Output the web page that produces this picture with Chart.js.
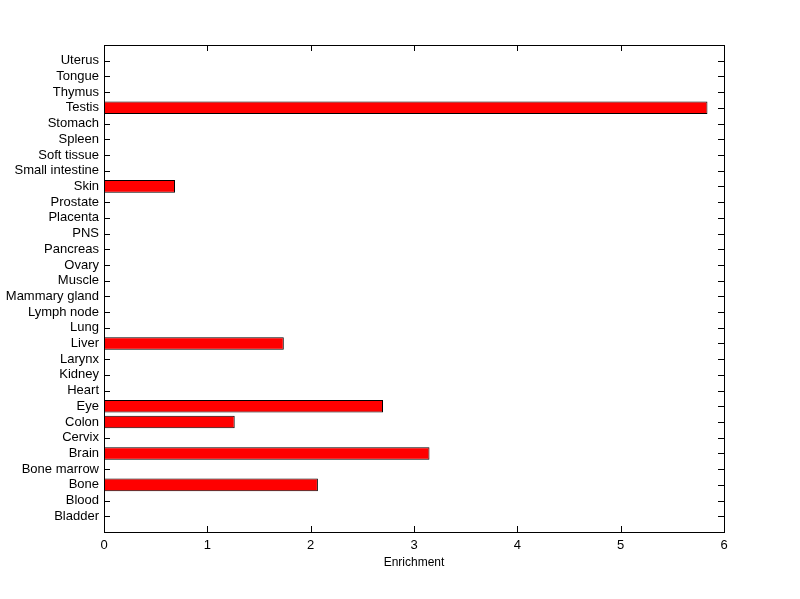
<!DOCTYPE html>
<html>
<head>
<meta charset="utf-8">
<script src="https://cdn.jsdelivr.net/npm/chart.js@4/dist/chart.umd.min.js"></script>
<style>
  html, body { margin: 0; padding: 0; background: #fff; }
  #wrap { width: 800px; height: 599px; }
</style>
</head>
<body>
<div id="wrap"><canvas id="chart" width="800" height="599"></canvas></div>
<script>
// tissues, bottom to top (as in the plot)
const tissues = ['Bladder', 'Blood', 'Bone', 'Bone marrow', 'Brain', 'Cervix', 'Colon', 'Eye',
  'Heart', 'Kidney', 'Larynx', 'Liver', 'Lung', 'Lymph node', 'Mammary gland', 'Muscle',
  'Ovary', 'Pancreas', 'PNS', 'Placenta', 'Prostate', 'Skin', 'Small intestine', 'Soft tissue',
  'Spleen', 'Stomach', 'Testis', 'Thymus', 'Tongue', 'Uterus'];
const enrichment = [0, 0, 2.07, 0, 3.15, 0, 1.265, 2.70,
  0, 0, 0, 1.74, 0, 0, 0, 0,
  0, 0, 0, 0, 0, 0.687, 0, 0,
  0, 0, 5.84, 0, 0, 0];
const xTicks = [0, 1, 2, 3, 4, 5, 6];

const FONT = { family: 'Arial, "Liberation Sans", Helvetica, sans-serif', size: 13 };

// box + inward ticks like matlab axes (drawn under the bars)
const boxTicks = {
    id: 'boxTicks',
    beforeDatasetsDraw(chart) {
        const { ctx, chartArea: a, scales } = chart;
        const len = 6;
        ctx.save();
        ctx.strokeStyle = '#000';
        ctx.lineWidth = 1;
        ctx.beginPath();
        scales.y.ticks.forEach(t => {
            const y = Math.round(scales.y.getPixelForValue(t.value)) + 0.5;
            ctx.moveTo(a.left, y); ctx.lineTo(a.left + len, y);
            ctx.moveTo(a.right, y); ctx.lineTo(a.right - len, y);
        });
        scales.x.ticks.forEach(t => {
            const x = Math.round(scales.x.getPixelForValue(t.value)) + 0.5;
            ctx.moveTo(x, a.bottom); ctx.lineTo(x, a.bottom - len);
            ctx.moveTo(x, a.top); ctx.lineTo(x, a.top + len);
        });
        ctx.stroke();
        ctx.strokeRect(Math.round(a.left) + 0.5, Math.round(a.top) + 0.5,
            Math.round(a.right - a.left), Math.round(a.bottom - a.top));
        ctx.restore();
    }
};

new Chart(document.getElementById('chart'), {
    type: 'bar',
    data: {
        datasets: [{
            data: enrichment.map((v, i) => ({ x: v, y: i + 1 })),
            backgroundColor: '#ff0000',
            borderColor: '#000',
            borderWidth: 1,
            borderSkipped: false,
            barPercentage: 1,
            categoryPercentage: 0.8
        }]
    },
    options: {
        indexAxis: 'y',
        responsive: false,
        animation: false,
        layout: { padding: { top: 45, right: 76, left: 0, bottom: 29 } },
        plugins: { legend: { display: false }, tooltip: { enabled: false } },
        scales: {
            x: {
                type: 'linear',
                min: 0, max: 6,
                afterBuildTicks: s => { s.ticks = xTicks.map(v => ({ value: v })); },
                grid: { display: false, drawTicks: false },
                border: { display: false },
                ticks: { color: '#000', font: FONT, padding: 6 },
                title: { display: true, text: 'Enrichment', color: '#000', font: { ...FONT, size: 12 }, padding: 0 },
                afterFit: s => { s.height = 38; }
            },
            y: {
                type: 'linear',
                min: 0, max: 31,
                offset: false,
                afterBuildTicks: s => { s.ticks = tissues.map((_, i) => ({ value: i + 1 })); },
                grid: { display: false, drawTicks: false, offset: false },
                border: { display: false },
                ticks: {
                    color: '#000', font: FONT, padding: 5, autoSkip: false,
                    callback: v => tissues[v - 1]
                },
                afterFit: s => { s.width = 104; s.paddingTop = 0; s.paddingBottom = 0; }
            }
        }
    },
    plugins: [boxTicks]
});
</script>
</body>
</html>
